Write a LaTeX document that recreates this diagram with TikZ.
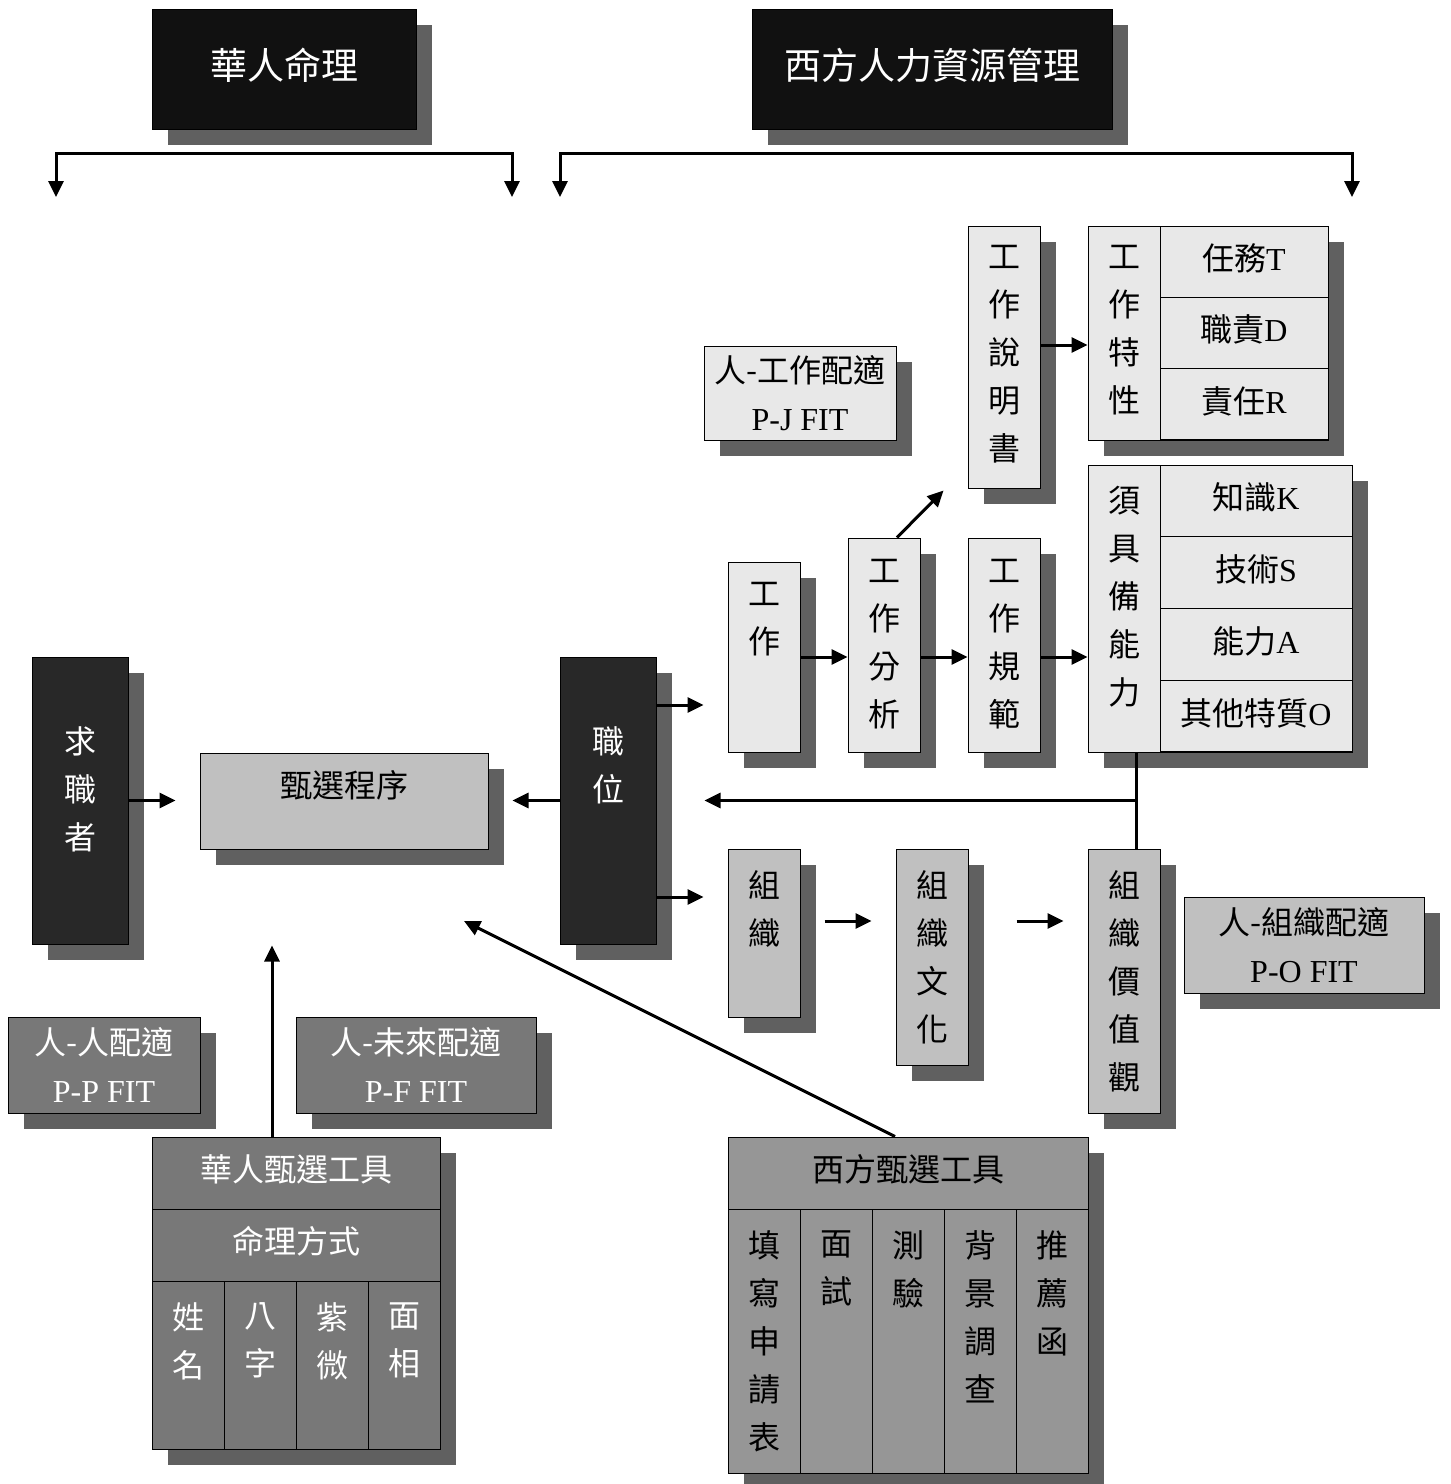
\documentclass[tikz,border=0pt]{standalone}
\usepackage{fontspec}
\setmainfont{Liberation Serif}
\newfontfamily\cjk{Noto Sans CJK TC}
\usetikzlibrary{arrows.meta,shadows,calc}
\definecolor{shadowc}{HTML}{606060}
\definecolor{titlec}{HTML}{111111}
\definecolor{darkc}{HTML}{282828}
\definecolor{lightc}{HTML}{E8E8E8}
\definecolor{midc}{HTML}{C0C0C0}
\definecolor{grayA}{HTML}{787878}
\definecolor{grayB}{HTML}{969696}
\tikzset{
  shd/.style={drop shadow={shadow xshift=8pt,shadow yshift=-8pt,fill=shadowc,opacity=1}},
  bx/.style={draw=black,line width=0.5pt,inner sep=0pt,align=center,font=\cjk\fontsize{16}{24}\selectfont},
  titlebox/.style={bx,shd,fill=titlec,text=white},
  titletxt/.style={inner sep=0pt,text=white,font=\cjk\fontsize{18.5}{24}\selectfont},
  darkbox/.style={bx,shd,fill=darkc,text=white},
  lightbox/.style={bx,fill=lightc},
  midbox/.style={bx,fill=midc},
  grayAbox/.style={bx,fill=grayA,text=white},
  grayBbox/.style={bx,fill=grayB},
  vtxt/.style={inner sep=0pt,align=center,anchor=north,yshift=-2pt,font=\cjk\fontsize{16}{24}\selectfont},
  arr/.style={line width=1.5pt,-{Triangle[length=8pt,width=7.5pt]}},
  brk/.style={line width=1.5pt,{Triangle[length=8pt,width=7.5pt]}-{Triangle[length=8pt,width=7.5pt]}},
  plainline/.style={line width=1.5pt},
}
\begin{document}
\begin{tikzpicture}[x=0.5pt,y=-0.5pt]
\useasboundingbox (0,0) rectangle (1451,1484);

% titles
\node[titlebox,minimum width=132pt,minimum height=60pt] (hua) at (284,69) {};
\node[titletxt] (huat) at (284,65) {華人命理};
\node[titlebox,minimum width=180pt,minimum height=60pt] (west) at (932,69) {};
\node[titletxt] (westt) at (932,65) {西方人力資源管理};

% brackets
\coordinate (lbA) at (56,197);
\coordinate (lbB) at (56,153);
\coordinate (lbC) at (512,153);
\coordinate (lbD) at (512,197);
\draw[brk] (lbA) -- (lbB) -- (lbC) -- (lbD);
\coordinate (rbA) at (560,197);
\coordinate (rbB) at (560,153);
\coordinate (rbC) at (1352,153);
\coordinate (rbD) at (1352,197);
\draw[brk] (rbA) -- (rbB) -- (rbC) -- (rbD);

% job description
\node[lightbox,shd,minimum width=36pt,minimum height=131pt] (desc) at (1004,357) {};
\node[vtxt] (desct) at (1004,241) {工\\作\\說\\明\\書};

% job characteristics group
\node[lightbox,shd,minimum width=120pt,minimum height=107pt] (chargrp) at (1208,333) {};
\node[lightbox,minimum width=36pt,minimum height=107pt] (charcol) at (1124,333) {};
\node[vtxt] (charct) at (1124,241) {工\\作\\特\\性};
\node[lightbox,minimum width=84pt,minimum height=35.67pt] (task) at (1244,261.7) {};
\node[lightbox,minimum width=84pt,minimum height=35.67pt] (duty) at (1244,333) {};
\node[lightbox,minimum width=84pt,minimum height=35.67pt] (resp) at (1244,404.3) {};
\node[bx,draw=none] (taskt) at (1244,258) {任務\textrm{T}};
\node[bx,draw=none] (dutyt) at (1244,329) {職責\textrm{D}};
\node[bx,draw=none] (respt) at (1244,401) {責任\textrm{R}};

% P-J fit
\node[lightbox,shd,minimum width=96pt,minimum height=47pt] (pj) at (800,393) {人-工作配適\\\textrm{P-J FIT}};

% abilities group
\node[lightbox,shd,minimum width=132pt,minimum height=143.5pt] (abilgrp) at (1220,608.5) {};
\node[lightbox,minimum width=36pt,minimum height=143.5pt] (abilcol) at (1124,608.5) {};
\node[vtxt] (abilct) at (1124,482) {須\\具\\備\\能\\力};
\node[lightbox,minimum width=96pt,minimum height=35.875pt] (know) at (1256,500.9) {};
\node[lightbox,minimum width=96pt,minimum height=35.875pt] (skill) at (1256,572.6) {};
\node[lightbox,minimum width=96pt,minimum height=35.875pt] (abil) at (1256,644.4) {};
\node[lightbox,minimum width=96pt,minimum height=35.875pt] (other) at (1256,716.1) {};
\node[bx,draw=none] (knowt) at (1256,497) {知識\textrm{K}};
\node[bx,draw=none] (skillt) at (1256,569) {技術\textrm{S}};
\node[bx,draw=none] (abilt) at (1256,641) {能力\textrm{A}};
\node[bx,draw=none] (othert) at (1256,713) {其他特質\textrm{O}};

% job chain
\node[lightbox,shd,minimum width=36pt,minimum height=95pt] (job) at (764,657) {};
\node[vtxt] (jobt) at (764,578) {工\\作};
\node[lightbox,shd,minimum width=36pt,minimum height=107pt] (ana) at (884,645) {};
\node[vtxt] (anat) at (884,555) {工\\作\\分\\析};
\node[lightbox,shd,minimum width=36pt,minimum height=107pt] (spec) at (1004,645) {};
\node[vtxt] (spect) at (1004,555) {工\\作\\規\\範};

% seeker, process, position
\node[darkbox,minimum width=48pt,minimum height=143.5pt] (seeker) at (80,800.5) {};
\node[vtxt,text=white] (seekert) at (80,722) {求\\職\\者};
\node[midbox,shd,minimum width=144pt,minimum height=48pt] (proc) at (344,801) {};
\node[inner sep=0pt,font=\cjk\fontsize{16}{24}\selectfont] (proct) at (344,785) {甄選程序};
\node[darkbox,minimum width=48pt,minimum height=143.5pt] (pos) at (608,800.5) {};
\node[vtxt,text=white] (post) at (608,722) {職\\位};

% organisation chain
\node[midbox,shd,minimum width=36pt,minimum height=84pt] (org) at (764,933) {};
\node[vtxt] (orgt) at (764,866) {組\\織};
\node[midbox,shd,minimum width=36pt,minimum height=108pt] (cult) at (932,957) {};
\node[vtxt] (cultt) at (932,866) {組\\織\\文\\化};
\node[midbox,shd,minimum width=36pt,minimum height=132pt] (val) at (1124,981) {};
\node[vtxt] (valt) at (1124,866) {組\\織\\價\\值\\觀};
\node[midbox,shd,minimum width=120pt,minimum height=48pt] (po) at (1304,945) {人-組織配適\\\textrm{P-O FIT}};

% fits bottom left
\node[grayAbox,shd,minimum width=96pt,minimum height=48pt] (pp) at (104,1065) {人-人配適\\\textrm{P-P FIT}};
\node[grayAbox,shd,minimum width=120pt,minimum height=48pt] (pf) at (416,1065) {人-未來配適\\\textrm{P-F FIT}};

% Chinese selection tools
\node[grayAbox,shd,minimum width=144pt,minimum height=156pt] (ctool) at (296,1293) {};
\node[grayAbox,minimum width=144pt,minimum height=36pt] (ctitle) at (296,1173) {};
\node[bx,draw=none,text=white] (ctitlet) at (296,1169) {華人甄選工具};
\node[grayAbox,minimum width=144pt,minimum height=36pt] (cmode) at (296,1245) {};
\node[bx,draw=none,text=white] (cmodet) at (296,1241) {命理方式};
\node[grayAbox,minimum width=36pt,minimum height=84pt] (cname) at (188,1365) {};
\node[grayAbox,minimum width=36pt,minimum height=84pt] (cbazi) at (260,1365) {};
\node[grayAbox,minimum width=36pt,minimum height=84pt] (cziwei) at (332,1365) {};
\node[grayAbox,minimum width=36pt,minimum height=84pt] (cface) at (404,1365) {};
\node[vtxt,text=white] (cnamet) at (188,1298) {姓\\名};
\node[vtxt,text=white] (cbazit) at (260,1298) {八\\字};
\node[vtxt,text=white] (cziweit) at (332,1298) {紫\\微};
\node[vtxt,text=white] (cfacet) at (404,1298) {面\\相};

% Western selection tools
\node[grayBbox,shd,minimum width=180pt,minimum height=168pt] (wtool) at (908,1305) {};
\node[grayBbox,minimum width=180pt,minimum height=36pt] (wtitle) at (908,1173) {};
\node[bx,draw=none] (wtitlet) at (908,1169) {西方甄選工具};
\node[grayBbox,minimum width=36pt,minimum height=132pt] (wform) at (764,1341) {};
\node[grayBbox,minimum width=36pt,minimum height=132pt] (wint) at (836,1341) {};
\node[grayBbox,minimum width=36pt,minimum height=132pt] (wtest) at (908,1341) {};
\node[grayBbox,minimum width=36pt,minimum height=132pt] (wback) at (980,1341) {};
\node[grayBbox,minimum width=36pt,minimum height=132pt] (wref) at (1052,1341) {};
\node[vtxt] (wformt) at (764,1226) {填\\寫\\申\\請\\表};
\node[vtxt] (wintt) at (836,1226) {面\\試};
\node[vtxt] (wtestt) at (908,1226) {測\\驗};
\node[vtxt] (wbackt) at (980,1226) {背\\景\\調\\查};
\node[vtxt] (wreft) at (1052,1226) {推\\薦\\函};

% helper coordinates
\coordinate (c345) at (0,345);
\coordinate (c705) at (0,705);
\coordinate (c897) at (0,897);
\coordinate (c921) at (0,921);
\coordinate (jx) at (1136,0);
\coordinate (c272) at (272,0);
\coordinate (wtip) at (464,921);

% connectors
\draw[arr] (desc.east |- c345) -- (charcol.west |- c345);
\draw[arr] (job.east) -- (ana.west |- job.east);
\draw[arr] (ana.east |- job.east) -- (spec.west |- job.east);
\draw[arr] (spec.east |- job.east) -- (abilcol.west |- job.east);
\draw[arr] ($(ana.north)+(13,0)$) -- ($(desc.south west)+(-24,2)$);
\draw[arr,shorten >=12pt] (seeker.east) -- (proc.west |- seeker.east);
\draw[arr,shorten >=12pt] (pos.west) -- (proc.east |- pos.west);
\draw[arr,shorten >=12pt] (pos.east |- c705) -- (job.west |- c705);
\draw[arr,shorten >=12pt] (pos.east |- c897) -- (org.west |- c897);
\draw[plainline] (abilcol.south -| jx) -- (val.north -| jx);
\draw[arr,shorten >=24pt] (jx |- pos.east) -- (pos.east);
\draw[arr,shorten <=12pt,shorten >=12pt] (org.east |- c921) -- (cult.west |- c921);
\draw[arr,shorten <=24pt,shorten >=12pt] (cult.east |- c921) -- (val.west |- c921);
\draw[arr,shorten >=48pt] (ctitle.north -| c272) -- (c272 |- proc.south);
\draw[arr] ($(wtitle.north)+(-13,0)$) -- (wtip);
\end{tikzpicture}
\end{document}
